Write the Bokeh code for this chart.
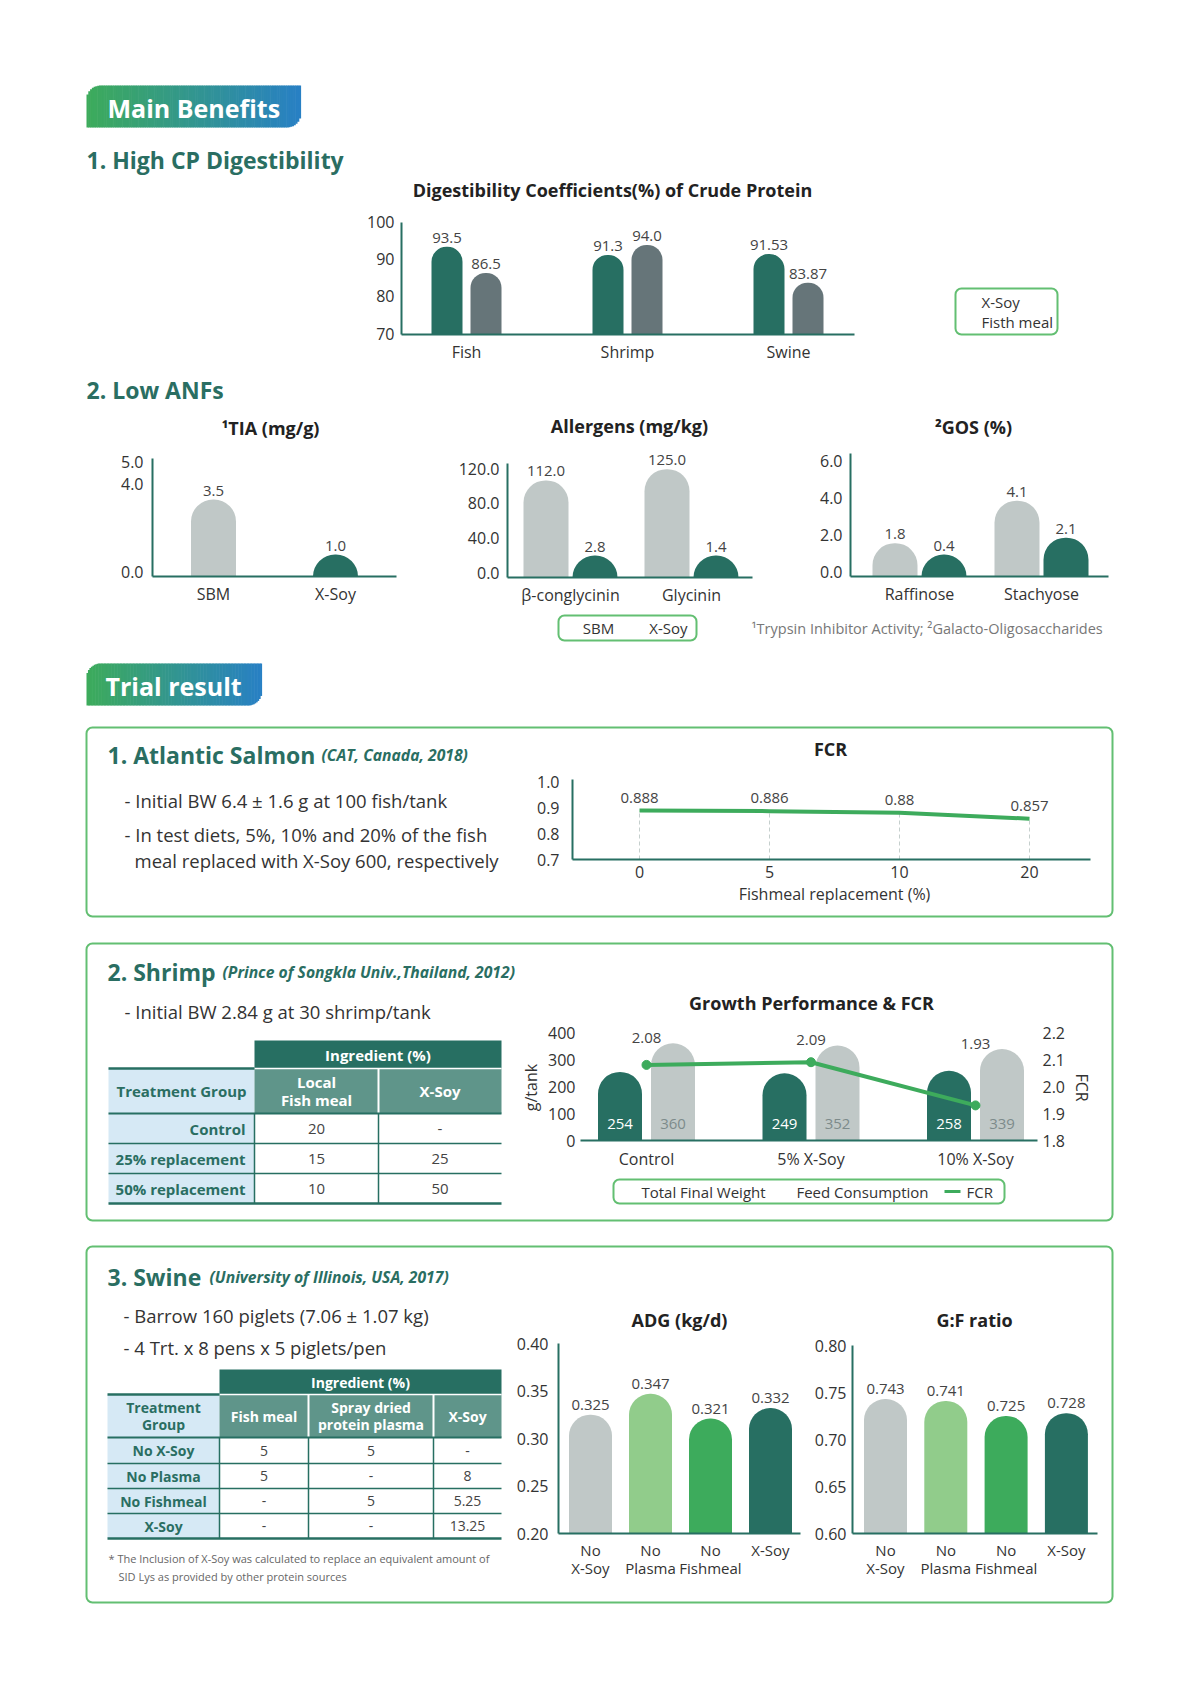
import math
from bokeh.plotting import figure
from bokeh.models import Range1d
from bokeh.embed import file_html
from bokeh.resources import INLINE
from bokeh.core.properties import value

# ---------------- DATA ----------------
dig_categories = ["Fish", "Shrimp", "Swine"]
dig_series = ["X-Soy", "Fisth meal"]
dig_xsoy = [93.5, 91.3, 91.53]
dig_fishmeal = [86.5, 94.0, 83.87]
dig_ticks = [70, 80, 90, 100]

anf_series = ["SBM", "X-Soy"]
tia_categories = ["SBM", "X-Soy"]
tia_values = [3.5, 1.0]
tia_ticks = [0.0, 4.0, 5.0]

allergen_categories = ["β-conglycinin", "Glycinin"]
allergen_sbm = [112.0, 125.0]
allergen_xsoy = [2.8, 1.4]
allergen_ticks = [0.0, 40.0, 80.0, 120.0]

gos_categories = ["Raffinose", "Stachyose"]
gos_sbm = [1.8, 4.1]
gos_xsoy = [0.4, 2.1]
gos_ticks = [0.0, 2.0, 4.0, 6.0]

salmon_replacement = ["0", "5", "10", "20"]
salmon_fcr = [0.888, 0.886, 0.88, 0.857]
salmon_ticks = [0.7, 0.8, 0.9, 1.0]

shrimp_groups = ["Control", "5% X-Soy", "10% X-Soy"]
shrimp_series = ["Total Final Weight", "Feed Consumption", "FCR"]
shrimp_final_weight = [254, 249, 258]
shrimp_feed = [360, 352, 339]
shrimp_fcr = [2.08, 2.09, 1.93]
shrimp_left_ticks = [0, 100, 200, 300, 400]
shrimp_right_ticks = [1.8, 1.9, 2.0, 2.1, 2.2]

shrimp_table_cols = ["Local\nFish meal", "X-Soy"]
shrimp_table_rows = ["Control", "25% replacement", "50% replacement"]
shrimp_table_fishmeal = ["20", "15", "10"]
shrimp_table_xsoy = ["-", "25", "50"]

swine_groups = ["No\nX-Soy", "No\nPlasma", "No\nFishmeal", "X-Soy"]
swine_adg = [0.325, 0.347, 0.321, 0.332]
swine_gf = [0.743, 0.741, 0.725, 0.728]
adg_ticks = [0.20, 0.25, 0.30, 0.35, 0.40]
gf_ticks = [0.60, 0.65, 0.70, 0.75, 0.80]

swine_table_cols = ["Fish meal", "Spray dried\nprotein plasma", "X-Soy"]
swine_table_rows = ["No X-Soy", "No Plasma", "No Fishmeal", "X-Soy"]
swine_table_fishmeal = ["5", "5", "-", "-"]
swine_table_plasma = ["5", "-", "5", "-"]
swine_table_xsoy = ["-", "8", "5.25", "13.25"]

# ---------------- STYLE ----------------
TEAL = "#276f62"
SLATE = "#667579"
LGRAY = "#c0c8c7"
LGREEN = "#91cc8b"
GREEN = "#3dab5c"
BORDER = "#63bf72"
TXT = "#333333"
VAL = "#444444"
HEAD = "#2a6e62"
TBL_SUB = "#5f958a"
TBL_LEFT = "#d6e9f5"
FONT = value("Open Sans")
swine_colors = [LGRAY, LGREEN, GREEN, TEAL]

W, H = 1175, 1668
p = figure(width=W, height=H, x_range=Range1d(0, W), y_range=Range1d(H, 0),
           output_backend="svg", toolbar_location=None, x_axis_location=None,
           y_axis_location=None, min_border=0, background_fill_color="white",
           border_fill_color="white")
p.grid.visible = False
p.outline_line_color = None


def T(g, xs, ys, texts, size, color=TXT, style="normal", align="left",
      baseline="middle", angle=0.0, xo=0, yo=0):
    if not isinstance(texts, (list, tuple)):
        xs, ys, texts = [xs], [ys], [texts]
    g.text(x=list(xs), y=list(ys), text=list(texts), text_font=FONT,
           text_font_size=f"{size}px", text_color=color, text_font_style=style,
           text_align=align, text_baseline=baseline, angle=angle,
           x_offset=xo, y_offset=yo)


def ML(x, y, text, size, lh=1.2, **kw):
    lines = text.split("\n")
    n = len(lines)
    for k, ln in enumerate(lines):
        T(p, x, y + (k - (n - 1) / 2) * size * lh, ln, size, **kw)


class Chart:
    def __init__(self, x0, x1, c0, s, base, top, ymin, ymax):
        self.xs0 = (x0 - c0) / s
        self.xs1 = (x1 - c0) / s
        self.s = s
        self.ppu = (base - top) / (ymax - ymin)
        self.ymin, self.ymax = ymin, ymax
        self.g = p.subplot(x_source=Range1d(self.xs0, self.xs1),
                           y_source=Range1d(ymin, ymax),
                           x_target=Range1d(x0, x1),
                           y_target=Range1d(base, top))

    def px(self, d):
        return d / self.s

    def py(self, d):
        return d / self.ppu


def bars(c, xs, vals, color, wpx):
    r = int(wpx // 2)
    floor = c.ymin + c.py(r)
    tops = [max(v, floor) for v in vals]
    c.g.vbar(x=xs, top=tops, bottom=c.ymin, width=c.px(wpx), fill_color=color,
             line_color=None, border_radius=(r, r, 0, 0))
    return tops


def axes(c, ticks, fmt, extra=0, vertical=True, xo=-8, size=16, yo=0):
    g = c.g
    g.segment(x0=[c.xs0], y0=[c.ymin], x1=[c.xs1], y1=[c.ymin], line_color=TEAL, line_width=2)
    if vertical:
        g.segment(x0=[c.xs0], y0=[c.ymin], x1=[c.xs0], y1=[c.ymax + c.py(extra)],
                  line_color=TEAL, line_width=2)
    T(g, [c.xs0] * len(ticks), ticks, [fmt.format(t) for t in ticks], size,
      align="right", xo=xo, yo=yo)


def vals(c, xs, tops, texts, size=15, color=VAL, yo=-4):
    T(c.g, xs, tops, texts, size, color=color, align="center", baseline="bottom", yo=yo)


def cats(c, labels, size=16, yo=6):
    for i, lab in enumerate(labels):
        for k, ln in enumerate(lab.split("\n")):
            T(c.g, [i], [c.ymin], [ln], size, align="center", baseline="top",
              yo=yo + k * size * 1.2)


def badge(x0, x1, y0, y1, r, n=120):
    c0 = (61, 171, 91)
    c1 = (40, 128, 196)
    w = (x1 - x0) / n
    L, R, Tp, B, C = [], [], [], [], []
    for i in range(n):
        xl = x0 + i * w
        xm = xl + w / 2
        top, bot = y0, y1
        if xm < x0 + r:
            dx = x0 + r - xm
            top = y0 + r - math.sqrt(max(r * r - dx * dx, 0))
        if xm > x1 - r:
            dx = xm - (x1 - r)
            bot = y1 - r + math.sqrt(max(r * r - dx * dx, 0))
        t = i / (n - 1)
        col = "#%02x%02x%02x" % tuple(int(round(a + (b - a) * t)) for a, b in zip(c0, c1))
        L.append(xl); R.append(xl + w + 0.6); Tp.append(top); B.append(bot); C.append(col)
    p.quad(left=L, right=R, top=Tp, bottom=B, fill_color=C, line_color=None)


def box(x0, x1, y0, y1, r=6, lw=2):
    p.quad(left=[x0], right=[x1], top=[y0], bottom=[y1], fill_color=None,
           line_color=BORDER, line_width=lw, border_radius=r)


def table(cx, ry, header, sub_left, subcols, row_labels, data_cols, size, row_align):
    xl, xd, xr = cx[0], cx[1], cx[-1]
    p.quad(left=[xd], right=[xr], top=[ry[0]], bottom=[ry[1]], fill_color=TEAL, line_color=None)
    T(p, (xd + xr) / 2, (ry[0] + ry[1]) / 2, header, size, "white", "bold", align="center")
    p.quad(left=[xl], right=[xd], top=[ry[1]], bottom=[ry[2]], fill_color=TBL_LEFT, line_color=None)
    ns = len(subcols)
    p.quad(left=cx[1:-1], right=cx[2:], top=[ry[1]] * ns, bottom=[ry[2]] * ns,
           fill_color=TBL_SUB, line_color=None)
    ML((xl + xd) / 2, (ry[1] + ry[2]) / 2, sub_left, size, color=HEAD, style="bold", align="center")
    for j, name in enumerate(subcols):
        ML((cx[j + 1] + cx[j + 2]) / 2, (ry[1] + ry[2]) / 2, name, size, color="white",
           style="bold", align="center")
    nr = len(row_labels)
    p.quad(left=[xl] * nr, right=[xd] * nr, top=ry[2:-1], bottom=ry[3:],
           fill_color=TBL_LEFT, line_color=None)
    for i, lab in enumerate(row_labels):
        yc = (ry[2 + i] + ry[3 + i]) / 2
        if row_align == "right":
            T(p, xd - 9, yc, lab, size, HEAD, "bold", align="right")
        else:
            T(p, (xl + xd) / 2, yc, lab, size, HEAD, "bold", align="center")
        for j, col in enumerate(data_cols):
            T(p, (cx[j + 1] + cx[j + 2]) / 2, yc, col[i], size, VAL, align="center")
    inner = cx[2:-1]
    p.segment(x0=inner, y0=[ry[1]] * len(inner), x1=inner, y1=[ry[2]] * len(inner),
              line_color="white", line_width=2)
    p.segment(x0=[xd], y0=[ry[1]], x1=[xr], y1=[ry[1]], line_color="white", line_width=1.5)
    p.segment(x0=[xl], y0=[ry[1]], x1=[xd], y1=[ry[1]], line_color=TEAL, line_width=2.5)
    p.segment(x0=[xl], y0=[ry[2]], x1=[xr], y1=[ry[2]], line_color=TEAL, line_width=2)
    mids = ry[3:-1]
    p.segment(x0=[xl] * len(mids), y0=mids, x1=[xr] * len(mids), y1=mids, line_color=TEAL, line_width=1.5)
    p.segment(x0=[xl], y0=[ry[-1]], x1=[xr], y1=[ry[-1]], line_color=TEAL, line_width=2.5)
    vx = cx[1:-1]
    p.segment(x0=vx, y0=[ry[2]] * len(vx), x1=vx, y1=[ry[-1]] * len(vx), line_color=TEAL, line_width=1.5)


# ================= MAIN BENEFITS =================
badge(86, 300, 85, 127, 14)
T(p, 107, 107, "Main Benefits", 25, "white", "bold")
T(p, 86, 159, "1. High CP Digestibility", 23, HEAD, "bold")

T(p, 612, 189, "Digestibility Coefficients(%) of Crude Protein", 18, "#222222", "bold", align="center")
cd = Chart(401, 854, 466, 161, 334, 222, 70, 100)
off = cd.px(19.5)
xa = [i - off for i in range(3)]
xb = [i + off for i in range(3)]
ta = bars(cd, xa, dig_xsoy, TEAL, 31)
tb = bars(cd, xb, dig_fishmeal, SLATE, 31)
axes(cd, dig_ticks, "{:.0f}", extra=0, xo=-7, yo=-1)
vals(cd, xa, ta, [str(v) for v in dig_xsoy])
vals(cd, xb, tb, [str(v) for v in dig_fishmeal])
cats(cd, dig_categories, yo=6)
box(955, 1057, 288, 334)
T(p, [981, 981], [301, 321], dig_series, 15)

T(p, 86, 389, "2. Low ANFs", 23, HEAD, "bold")

T(p, 270, 427, "¹TIA (mg/g)", 18, "#222222", "bold", align="center")
ct = Chart(152, 396, 213, 122, 576, 466, 0, 5)
tt = bars(ct, [0], [tia_values[0]], LGRAY, 45)
tt2 = bars(ct, [1], [tia_values[1]], TEAL, 45)
axes(ct, tia_ticks, "{:.1f}", extra=8, xo=-9, yo=-5)
vals(ct, [0, 1], tt + tt2, [str(v) for v in tia_values])
cats(ct, tia_categories, yo=6)

T(p, 629, 425, "Allergens (mg/kg)", 18, "#222222", "bold", align="center")
ca = Chart(507, 752, 570, 121, 577, 473, 0, 120)
off = ca.px(24.5)
xa = [i - off for i in range(2)]
xb = [i + off for i in range(2)]
ta = bars(ca, xa, allergen_sbm, LGRAY, 45)
tb = bars(ca, xb, allergen_xsoy, TEAL, 45)
axes(ca, allergen_ticks, "{:.1f}", extra=10, xo=-8, yo=-5)
vals(ca, xa, ta, [str(v) for v in allergen_sbm])
vals(ca, xb, tb, [str(v) for v in allergen_xsoy])
cats(ca, allergen_categories, yo=6)
box(558, 696, 615, 640)
T(p, [598, 668], [627, 627], anf_series, 15, align="center")

T(p, 973, 426, "²GOS (%)", 18, "#222222", "bold", align="center")
cg = Chart(850, 1108, 919, 122, 576, 465, 0, 6)
off = cg.px(24.5)
xa = [i - off for i in range(2)]
xb = [i + off for i in range(2)]
ta = bars(cg, xa, gos_sbm, LGRAY, 45)
tb = bars(cg, xb, gos_xsoy, TEAL, 45)
axes(cg, gos_ticks, "{:.1f}", extra=12, xo=-8, yo=-5)
vals(cg, xa, ta, [str(v) for v in gos_sbm])
vals(cg, xb, tb, [str(v) for v in gos_xsoy])
cats(cg, gos_categories, yo=6)
T(p, 1106, 628, "¹Trypsin Inhibitor Activity;  ²Galacto-Oligosaccharides", 14.5, "#777777", align="right")

# ================= TRIAL RESULT =================
badge(86, 261, 663, 705, 14)
T(p, 105, 685, "Trial result", 25, "white", "bold")

# ---- Atlantic Salmon ----
box(86, 1112, 727, 916)
T(p, 107, 754, "1. Atlantic Salmon", 23, HEAD, "bold", baseline="alphabetic")
T(p, 321, 754, "(CAT, Canada, 2018)", 15.7, HEAD, "bold italic", baseline="alphabetic")
T(p, [124, 124, 134], [800, 834, 860],
  ["- Initial BW 6.4 ± 1.6 g at 100 fish/tank",
   "- In test diets, 5%, 10% and 20% of the fish",
   "meal replaced with X-Soy 600, respectively"], 18.5)

T(p, 830, 748, "FCR", 18, "#222222", "bold", align="center")
cs = Chart(572, 1090, 639, 130, 859, 781, 0.7, 1.0)
xs = list(range(len(salmon_fcr)))
cs.g.segment(x0=xs, y0=[0.7] * 4, x1=xs, y1=salmon_fcr, line_color="#c5cfcd",
             line_width=1, line_dash="4 3")
cs.g.line(x=xs, y=salmon_fcr, line_color=GREEN, line_width=4)
axes(cs, salmon_ticks, "{:.1f}", extra=2, xo=-13)
vals(cs, xs, salmon_fcr, [str(v) for v in salmon_fcr], yo=-8)
cats(cs, salmon_replacement, yo=6)
T(cs.g, [1.5], [0.7], ["Fishmeal replacement (%)"], 16, align="center", baseline="top", yo=23)

# ---- Shrimp ----
box(86, 1112, 943, 1220)
T(p, 107, 971, "2. Shrimp", 23, HEAD, "bold", baseline="alphabetic")
T(p, 222, 971, "(Prince of Songkla Univ.,Thailand, 2012)", 15.7, HEAD, "bold italic", baseline="alphabetic")
T(p, 124, 1011, "- Initial BW 2.84 g at 30 shrimp/tank", 18.5)
table([108, 254, 378, 501], [1040, 1068, 1113, 1143, 1173, 1203], "Ingredient (%)",
      "Treatment Group", shrimp_table_cols, shrimp_table_rows,
      [shrimp_table_fishmeal, shrimp_table_xsoy], 15, "right")

T(p, 811, 1002, "Growth Performance & FCR", 18, "#222222", "bold", align="center")
cw = Chart(582, 1037, 646, 164.5, 1140, 1032, 0, 400)
cr = Chart(582, 1037, 646, 164.5, 1140, 1032, 1.8, 2.2)
off = cw.px(26.5)
xa = [i - off for i in range(3)]
xb = [i + off for i in range(3)]
bars(cw, xa, shrimp_final_weight, TEAL, 44)
bars(cw, xb, shrimp_feed, LGRAY, 44)
cw.g.segment(x0=[cw.xs0 - cw.px(2)], y0=[0], x1=[cw.xs1], y1=[0], line_color=TEAL, line_width=2)
T(cw.g, [cw.xs0] * 5, shrimp_left_ticks, [str(t) for t in shrimp_left_ticks], 16, align="right", xo=-7)
T(cr.g, [cr.xs1] * 5, shrimp_right_ticks, ["{:.1f}".format(t) for t in shrimp_right_ticks], 16, align="left", xo=5)
T(cw.g, xa, [0] * 3, [str(v) for v in shrimp_final_weight], 15, "white", align="center", yo=-17)
T(cw.g, xb, [0] * 3, [str(v) for v in shrimp_feed], 15, "#7d8b8b", align="center", yo=-17)
cr.g.line(x=list(range(3)), y=shrimp_fcr, line_color=GREEN, line_width=4)
cr.g.scatter(x=list(range(3)), y=shrimp_fcr, size=9, fill_color=GREEN, line_color=GREEN)
T(cw.g, list(range(3)), [max(a, b) + 20 for a, b in zip(shrimp_final_weight, shrimp_feed)],
  [str(v) for v in shrimp_fcr], 15, VAL, align="center")
cats(cw, shrimp_groups, yo=7)
T(p, 530, 1087, "g/tank", 16, angle=math.pi / 2, align="center")
T(p, 1081, 1087, "FCR", 16, angle=-math.pi / 2, align="center")
box(613, 1004, 1179, 1203)
T(p, [703, 862], [1191, 1191], shrimp_series[:2], 15, align="center")
p.segment(x0=[944], y0=[1191], x1=[960], y1=[1191], line_color=GREEN, line_width=3)
T(p, 966, 1191, shrimp_series[2], 15)

# ---- Swine ----
box(86, 1112, 1246, 1602)
T(p, 107, 1276, "3. Swine", 23, HEAD, "bold", baseline="alphabetic")
T(p, 209, 1276, "(University of Illinois, USA, 2017)", 15.7, HEAD, "bold italic", baseline="alphabetic")
T(p, [123, 123], [1315, 1347], ["- Barrow 160 piglets (7.06 ± 1.07 kg)",
                                 "- 4 Trt. x 8 pens x 5 piglets/pen"], 18.5)
table([107, 219, 308, 433, 501], [1369, 1394, 1437, 1463, 1488, 1513, 1538], "Ingredient (%)",
      "Treatment\nGroup", swine_table_cols, swine_table_rows,
      [swine_table_fishmeal, swine_table_plasma, swine_table_xsoy], 14, "center")
T(p, [108, 118], [1558, 1576],
  ["* The Inclusion of X-Soy was calculated to replace an equivalent amount of",
   "SID Lys as provided by other protein sources"], 11, "#666666")

T(p, 679, 1319, "ADG (kg/d)", 18, "#222222", "bold", align="center")
cad = Chart(558, 800, 590, 60, 1533, 1343, 0.2, 0.4)
xs = list(range(4))
tops = []
for i in xs:
    tops += bars(cad, [i], [swine_adg[i]], swine_colors[i], 43)
axes(cad, adg_ticks, "{:.2f}", extra=0, xo=-10)
vals(cad, xs, tops, [str(v) for v in swine_adg], yo=-5)
cats(cad, swine_groups, size=15, yo=6)

T(p, 974, 1319, "G:F ratio", 18, "#222222", "bold", align="center")
cgf = Chart(852, 1097, 885, 60.3, 1533, 1345, 0.6, 0.8)
tops = []
for i in xs:
    tops += bars(cgf, [i], [swine_gf[i]], swine_colors[i], 43)
axes(cgf, gf_ticks, "{:.2f}", extra=0, xo=-6)
vals(cgf, xs, tops, [str(v) for v in swine_gf], yo=-5)
cats(cgf, swine_groups, size=15, yo=6)

open("out.html", "w").write(file_html(p, INLINE))
